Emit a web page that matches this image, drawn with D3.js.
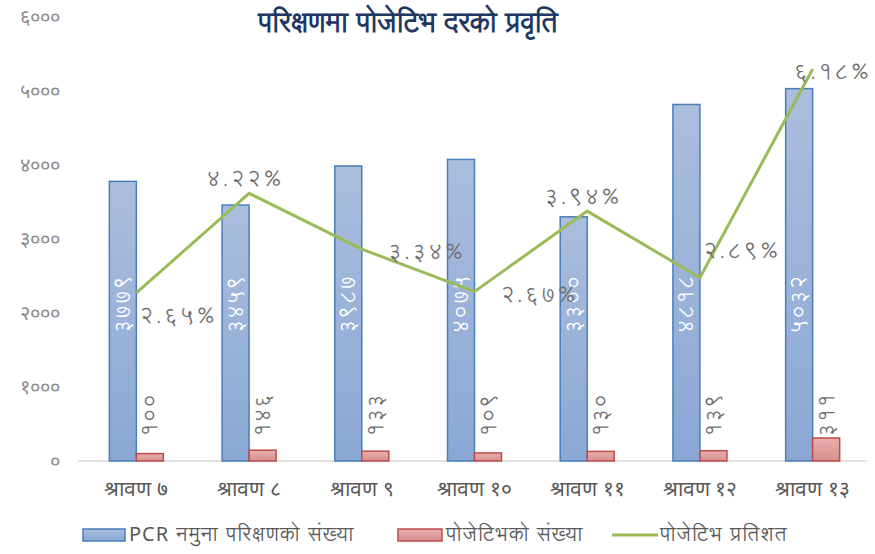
<!DOCTYPE html>
<html>
<head>
<meta charset="utf-8">
<script src="https://cdn.jsdelivr.net/npm/d3@7"></script>
<style>
  body { margin: 0; background: #fff; }
  svg { font-family: "Kalimati", "Lohit Devanagari", "Noto Sans Devanagari", "Noto Sans", sans-serif; }
  .tick_text { fill: #8c8c8c; font-size: 20px; }
  .cat_text { fill: #595959; font-size: 21px; }
  .pct_text { fill: #6f6f6f; font-size: 22px; letter-spacing: 2px; }
</style>
</head>
<body>
<svg id="chart" width="875" height="554"></svg>
<script>
// data
var categories = ["श्रावण ७", "श्रावण ८", "श्रावण ९", "श्रावण १०", "श्रावण ११", "श्रावण १२", "श्रावण १३"];
var pcrTests = [3779, 3459, 3987, 4075, 3300, 4818, 5032];
var positives = [100, 146, 133, 109, 130, 139, 311];
var positiveRate = [2.65, 4.22, 3.34, 2.67, 3.94, 2.89, 6.18];
var yTicks = [0, 1000, 2000, 3000, 4000, 5000, 6000];
var seriesNames = ["PCR नमुना परिक्षणको संख्या", "पोजेटिभको संख्या", "पोजेटिभ प्रतिशत"];
var titleText = "परिक्षणमा पोजेटिभ दरको प्रवृति";

// where each percent label sits relative to its point
var pctLabelPlace = ["rightBelow", "above", "right", "right", "above", "aboveRight", "rightEdge"];

var devDigits = "०१२३४५६७८९";
function toDev(v) {
    return String(v).replace(/[0-9]/g, d => devDigits[+d]);
}

var svg = d3.select("#chart");
const margins = {top: 17, right: 6, bottom: 93, left: 80};
const svg_width = 875, svg_height = 554;
const baseY = svg_height - margins.bottom;

var defs = svg.append("defs");
function addGradient(id, top, bottom) {
    var g = defs.append("linearGradient").attr("id", id)
        .attr("x1", 0).attr("y1", 0).attr("x2", 0).attr("y2", 1);
    g.append("stop").attr("offset", "0%").attr("stop-color", top);
    g.append("stop").attr("offset", "100%").attr("stop-color", bottom);
}
addGradient("gradBlue", "#aabedd", "#8aa7d4");
addGradient("gradRed", "#e8b0af", "#d58f8d");

var xScale = d3.scaleBand().domain(categories).range([margins.left, svg_width - margins.right]);
var subScale = d3.scaleBand().domain(["tests", "pos"]).range([-27, 27]);
var yScale = d3.scaleLinear().domain([0, 6000]).range([baseY, margins.top]);
var yPct = d3.scaleLinear().domain([0, 7]).range([baseY, margins.top]);
var center = c => xScale(c) + xScale.bandwidth() / 2;

// title
svg.append("text")
    .attr("x", 408).attr("y", 32)
    .attr("text-anchor", "middle")
    .attr("fill", "#1f3763")
    .attr("font-size", 27).attr("font-weight", "bold")
    .text(titleText);

// y axis labels
var yAxis = d3.axisLeft(yScale).tickValues(yTicks).tickSize(0).tickPadding(0).tickFormat(toDev);
var gy = svg.append("g").attr("transform", "translate(60,0)").call(yAxis);
gy.select(".domain").remove();
gy.selectAll("text").attr("class", "tick_text").attr("font-family", null).attr("font-size", null);

// baseline
svg.append("line")
    .attr("x1", 78).attr("x2", svg_width - margins.right - 2)
    .attr("y1", baseY).attr("y2", baseY)
    .attr("stroke", "#d9d9d9").attr("stroke-width", 1.5);

// category labels
var xAxis = d3.axisBottom(xScale).tickSize(0).tickPadding(0);
var gx = svg.append("g").attr("transform", "translate(0," + (baseY + 20) + ")").call(xAxis);
gx.select(".domain").remove();
gx.selectAll("text").attr("class", "cat_text").attr("font-family", null).attr("font-size", null);

// bars
var groups = svg.append("g").selectAll("g.bar")
    .data(categories).enter()
    .append("g").classed("bar", true);

groups.append("rect")
    .attr("x", (d, i) => center(d) + subScale("tests"))
    .attr("width", subScale.bandwidth())
    .attr("y", (d, i) => yScale(pcrTests[i]))
    .attr("height", (d, i) => baseY - yScale(pcrTests[i]))
    .attr("fill", "url(#gradBlue)")
    .attr("stroke", "#4a7ebb").attr("stroke-width", 1.5);

groups.append("rect")
    .attr("x", (d, i) => center(d) + subScale("pos"))
    .attr("width", subScale.bandwidth())
    .attr("y", (d, i) => yScale(positives[i]))
    .attr("height", (d, i) => baseY - yScale(positives[i]))
    .attr("fill", "url(#gradRed)")
    .attr("stroke", "#be4b48").attr("stroke-width", 1.5);

// line
var line = d3.line()
    .x((d, i) => center(categories[i]))
    .y(d => yPct(d));
svg.append("path")
    .datum(positiveRate)
    .attr("fill", "none")
    .attr("stroke", "#9bbb59")
    .attr("stroke-width", 3)
    .attr("d", line);

// bar value labels
groups.append("text")
    .attr("transform", (d, i) => "translate(" + (center(d) + subScale("tests") + subScale.bandwidth() / 2 + 7) + "," + 304 + ") rotate(-90)")
    .attr("text-anchor", "middle")
    .attr("fill", "#ffffff")
    .attr("font-size", 21)
    .attr("letter-spacing", 1)
    .text((d, i) => toDev(pcrTests[i]));

groups.append("text")
    .attr("transform", (d, i) => "translate(" + (center(d) + subScale("pos") + 21) + "," + 437 + ") rotate(-90)")
    .attr("text-anchor", "start")
    .attr("fill", "#6f6f6f")
    .attr("font-size", 21)
    .attr("letter-spacing", 1)
    .text((d, i) => toDev(positives[i]));

// percent labels
var placeOffset = {
    rightBelow: [3, 30, "start"],
    above: [-4, -7, "middle"],
    right: [26, 10, "start"],
    aboveRight: [3, -20, "start"],
    rightEdge: [59, 10, "end"]
};
svg.append("g").selectAll("text")
    .data(positiveRate).enter()
    .append("text")
    .attr("class", "pct_text")
    .attr("x", (d, i) => center(categories[i]) + placeOffset[pctLabelPlace[i]][0])
    .attr("y", (d, i) => yPct(d) + placeOffset[pctLabelPlace[i]][1])
    .attr("text-anchor", (d, i) => placeOffset[pctLabelPlace[i]][2])
    .text(d => toDev(d.toFixed(2)) + "%");

// legend
var legend = svg.append("g").attr("transform", "translate(0,535)");
var legendX = [83, 398, 612];
legend.append("rect").attr("x", legendX[0]).attr("y", -6).attr("width", 42).attr("height", 12)
    .attr("fill", "url(#gradBlue)").attr("stroke", "#4a7ebb").attr("stroke-width", 1.5);
legend.append("rect").attr("x", legendX[1]).attr("y", -6).attr("width", 44).attr("height", 12)
    .attr("fill", "url(#gradRed)").attr("stroke", "#be4b48").attr("stroke-width", 1.5);
legend.append("line").attr("x1", legendX[2]).attr("x2", legendX[2] + 46).attr("y1", 0).attr("y2", 0)
    .attr("stroke", "#9bbb59").attr("stroke-width", 3);
legend.selectAll("text.leg")
    .data(seriesNames).enter()
    .append("text").classed("leg", true)
    .attr("x", (d, i) => legendX[i] + [46, 48, 48][i])
    .attr("y", 6)
    .attr("fill", "#595959")
    .attr("font-size", 20)
    .attr("letter-spacing", 1)
    .text(d => d);
</script>
</body>
</html>
